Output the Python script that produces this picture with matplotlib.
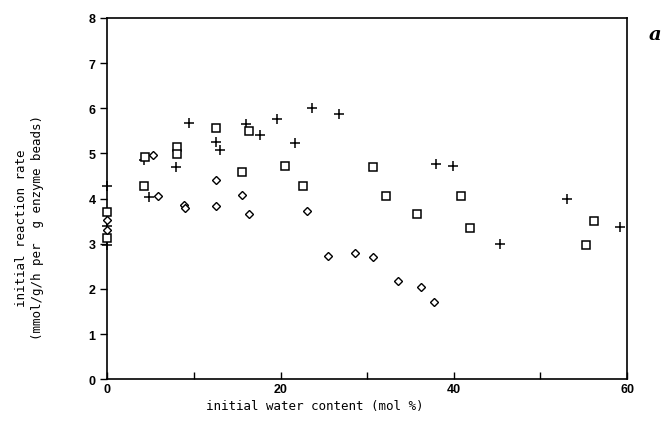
import matplotlib
matplotlib.use("Agg")
import matplotlib.pyplot as plt

# initial water content (mol %) vs initial reaction rate
plus_x = [0, 0, 0, 4.3, 4.8, 7.9, 9.4, 12.5, 13.0, 16.0, 17.6, 19.6, 21.7, 23.6,
          26.7, 37.9, 39.9, 45.3, 53.1, 59.2]
plus_y = [4.28, 3.4, 2.98, 4.85, 4.04, 4.70, 5.67, 5.26, 5.07, 5.64, 5.41, 5.76, 5.24, 6.0,
          5.87, 4.76, 4.71, 2.99, 3.99, 3.38]

square_x = [0, 0, 4.3, 4.4, 8.0, 8.0, 12.5, 15.5, 16.4, 20.5, 22.6, 30.7, 32.2, 35.7,
            40.8, 41.9, 55.2, 56.2]
square_y = [3.71, 3.13, 4.28, 4.93, 5.15, 4.99, 5.56, 4.59, 5.50, 4.72, 4.28, 4.69, 4.06, 3.66,
            4.05, 3.34, 2.98, 3.50]

diamond_x = [0, 0, 5.3, 5.9, 8.9, 9.0, 12.5, 12.5, 15.5, 16.4, 23.0, 25.5, 28.6, 30.7,
             33.6, 36.2, 37.7]
diamond_y = [3.52, 3.30, 4.97, 4.06, 3.86, 3.79, 4.40, 3.83, 4.08, 3.65, 3.73, 2.72, 2.79, 2.70,
             2.18, 2.05, 1.71]

x_ticks = [0, 20, 40, 60]
y_ticks = [0, 1, 2, 3, 4, 5, 6, 7, 8]

fig = plt.figure(figsize=(6.7, 4.39), dpi=100)
ax = fig.add_axes([0.16, 0.134, 0.776, 0.823])

ax.plot(plus_x, plus_y, linestyle='none', marker='+', markersize=7, mew=1.1, color='black',
        clip_on=False, zorder=3)
ax.plot(square_x, square_y, linestyle='none', marker='s', markersize=6, mew=1.1,
        mfc='white', mec='black', clip_on=False, zorder=3)
ax.plot(diamond_x, diamond_y, linestyle='none', marker='D', markersize=4, mew=1.0,
        mfc='white', mec='black', clip_on=False, zorder=3)

ax.set_xlim(0, 60)
ax.set_ylim(0, 8)
ax.set_xticks(x_ticks)
ax.set_xticks([10, 30, 50], minor=True)
ax.set_yticks(y_ticks)

for s in ax.spines.values():
    s.set_linewidth(1.2)

ax.tick_params(axis='x', which='both', direction='in', length=5, width=1, pad=3)
ax.tick_params(axis='y', direction='out', length=5, width=1)
for lab in ax.get_xticklabels() + ax.get_yticklabels():
    lab.set_fontfamily('Liberation Sans')
    lab.set_fontweight('bold')
    lab.set_fontsize(9)

fig.text(315 / 670, 1 - 407 / 439, "initial water content (mol %)", family='DejaVu Sans Mono',
         fontsize=9, ha='center', va='center')
fig.text(30 / 670, 1 - 228 / 439, "initial reaction rate\n(mmol/g/h per  g enzyme beads)",
         family='DejaVu Sans Mono', fontsize=9, ha='center', va='center', rotation=90,
         multialignment='center', linespacing=1.3)
fig.text(655 / 670, 1 - 35 / 439, "a", family='DejaVu Serif', style='italic',
         fontweight='bold', fontsize=14, ha='center', va='center')

fig.savefig("out.png", dpi=100)
